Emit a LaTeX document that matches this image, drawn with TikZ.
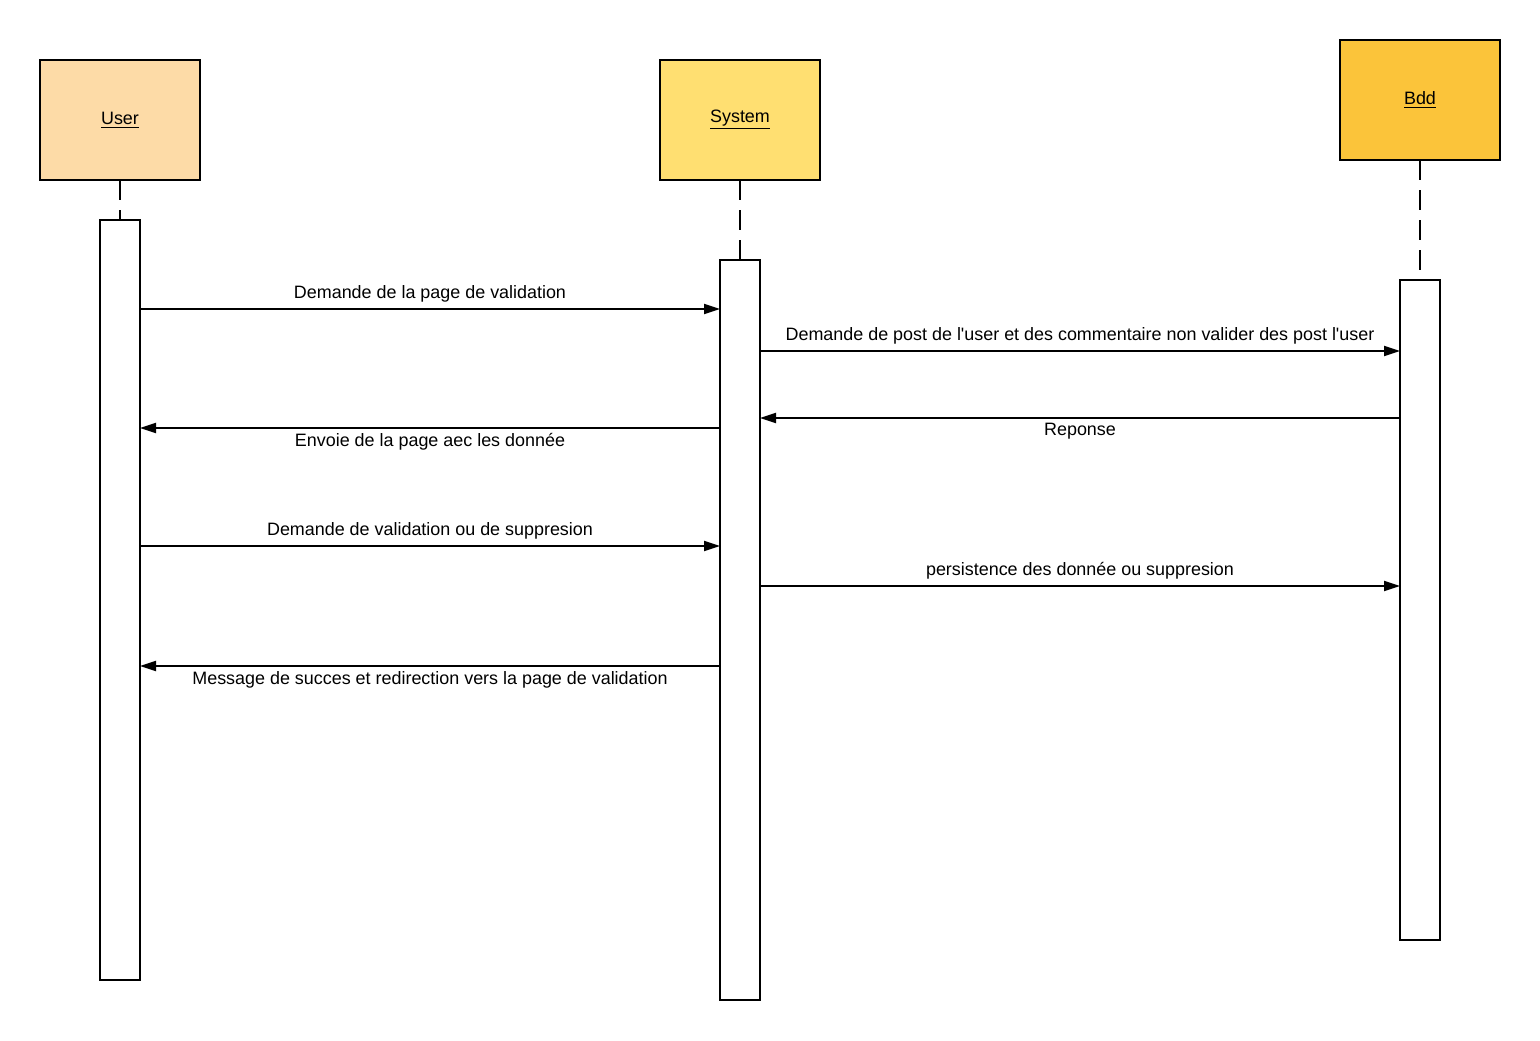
\documentclass[tikz,border=0pt]{standalone}
\usepackage{fontspec}
\setmainfont{Liberation Sans}
\usepackage{xcolor}
\usepackage{tikz}
\usetikzlibrary{positioning,arrows.meta}

\definecolor{userfill}{HTML}{FDDBA7}
\definecolor{sysfill}{HTML}{FFDF71}
\definecolor{bddfill}{HTML}{FBC43A}

\begin{document}
\begin{tikzpicture}[>={Triangle[length=0.32cm,width=0.2cm]}, line width=1.1pt, font=\fontsize{10.2}{12}\selectfont]
\tikzstyle{actor}=[
    draw,
    minimum width=3.2cm,
    minimum height=2.4cm,
    inner sep=0pt, outer sep=0pt
]
\tikzstyle{bar}=[draw, fill=white, minimum width=0.8cm, inner sep=0pt, outer sep=0pt]
\tikzstyle{life}=[dash pattern=on 0.4cm off 0.2cm]
\tikzstyle{msg}=[->]

\useasboundingbox (0,0) rectangle (30.8,-20.8);

% actors
\node[actor, fill=userfill] (user) at (2.4,-2.4) {\underline{User}};
\node[actor, fill=sysfill, right=9.2cm of user] (sys) {\underline{System}};
\node[actor, fill=bddfill, right=10.4cm of sys, yshift=0.4cm] (bdd) {\underline{Bdd}};

% activation bars
\node[bar, minimum height=15.2cm, below=0.8cm of user] (useract) {};
\node[bar, minimum height=14.8cm, below=1.6cm of sys] (sysact) {};
\node[bar, minimum height=13.2cm, below=2.4cm of bdd] (bddact) {};

\draw[life] (user) -- (useract);
\draw[life] (sys) -- (sysact);
\draw[life] (bdd) -- (bddact);

% message heights
\coordinate (m1) at (0,-6.18);
\coordinate (m2) at (0,-7.02);
\coordinate (m3) at (0,-8.36);
\coordinate (m4) at (0,-8.56);
\coordinate (m5) at (0,-10.92);
\coordinate (m6) at (0,-11.72);
\coordinate (m7) at (0,-13.32);

\draw[msg] (useract.east |- m1) -- node[above=0pt]{Demande de la page de validation} (sysact.west |- m1);
\draw[msg] (sysact.east |- m2) -- node[above=0pt]{Demande de post de l\textquotesingle user et des commentaire non valider des post l\textquotesingle user} (bddact.west |- m2);
\draw[msg] (bddact.west |- m3) -- node[below=-1pt]{Reponse} (sysact.east |- m3);
\draw[msg] (sysact.west |- m4) -- node[below=-1pt]{Envoie de la page aec les donnée} (useract.east |- m4);
\draw[msg] (useract.east |- m5) -- node[above=0pt]{Demande de validation ou de suppresion} (sysact.west |- m5);
\draw[msg] (sysact.east |- m6) -- node[above=0pt]{persistence des donnée ou suppresion} (bddact.west |- m6);
\draw[msg] (sysact.west |- m7) -- node[below=-1pt]{Message de succes et redirection vers la page de validation} (useract.east |- m7);
\end{tikzpicture}
\end{document}
